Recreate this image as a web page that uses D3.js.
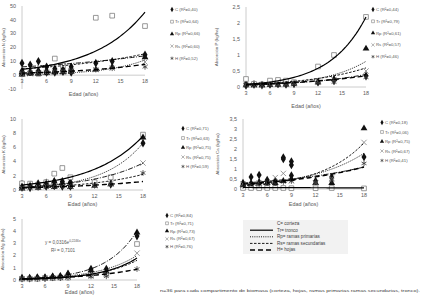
<!DOCTYPE html>
<html>
<head>
<meta charset="utf-8">
<script src="https://cdn.jsdelivr.net/npm/d3@7"></script>
<style>
  body { margin: 0; background: #fff; }
  svg { display: block; font-family: "Liberation Sans", Arial, sans-serif; }
</style>
</head>
<body>
<svg id="chart" width="423" height="300"></svg>
<script>
// ages sampled (años) and x ticks shared by every panel
const ages = [3, 4, 5, 6, 7, 8, 9, 12, 14, 18];
const xTicks = [3, 6, 9, 12, 15, 18];
const seriesKeys = ["C", "Tr", "Rp", "Rs", "H"];

// --- panel 1: N ---
const nTicks = [-10, 0, 10, 20, 30, 40, 50];
const nC  = [[8.7, 3], [7.5, 2.5], [10, 3], [6, 2], [4.6, 2], [5, 2.5], [6, 2], [8.7], [10], [14.7]];
const nTr = [[1], [1.5], [1], [2], [12], [7], [3], [41.5], [43], [35.5]];
const nRp = [[0.5, 2], [1, 2], [1, 3], [1.5, 3], [2, 3], [2, 4], [2.5, 4], [4], [6], [13]];
const nRs = [[1], [1], [1.5], [2], [2], [2.5], [3], [4], [5], [9.5]];
const nH  = [[1.5], [1.5], [2], [2], [2.5], [2.5], [3], [4], [5], [6]];
const nA  = [5.06, 2.56, 0.27, 3.6, 1.07];
const nB  = [0.0565, 0.16, 0.206, 0.081, 0.111];
const nR2 = ["0,40", "0,64", "0,66", "0,60", "0,52"];

// --- panel 2: P ---
const pTicks = [0, 0.5, 1, 1.5, 2, 2.5];
const pC  = [[0.1, 0.05], [0.08], [0.06], [0.08], [0.1], [0.08], [0.1], [0.15], [0.2], [0.35]];
const pTr = [[0.25], [0.1], [0.08], [0.2], [0.22], [0.2], [0.15], [0.64], [1.0], [2.19]];
const pRp = [[0.05], [0.05], [0.05], [0.06], [0.07], [0.08], [0.1], [0.15], [0.25], [1.2]];
const pRs = [[0.08], [0.06], [0.06], [0.08], [0.08], [0.1], [0.12], [0.18], [0.23], [0.5]];
const pH  = [[0.06], [0.05], [0.05], [0.06], [0.06], [0.07], [0.08], [0.12], [0.15], [0.3]];
const pA  = [0.041, 0.0417, 0.0287, 0.0535, 0.0596];
const pB  = [0.126, 0.22, 0.185, 0.134, 0.098];
const pR2 = ["0,44", "0,79", "0,61", "0,57", "0,46"];

// --- panel 3: K ---
const kTicks = [0, 2, 4, 6, 8, 10];
const kC  = [[0.8, 0.4], [0.7, 0.3], [0.9], [1.0, 0.5], [1.2, 0.6], [1.2, 0.5], [1.1, 0.5], [1.0], [0.8], [6.6]];
const kTr = [[0.93], [0.9], [0.75], [1.1], [2.3], [3.1], [1.8], [1.1], [1.8], [7.8]];
const kRp = [[0.5, 0.2], [0.6], [0.8, 0.3], [0.9], [1.2, 0.4], [1.0], [0.9, 0.4], [0.6], [0.8], [7.4]];
const kRs = [[0.3], [0.3], [0.4], [0.5], [0.5], [0.6], [0.5], [0.6], [0.9], [3.8]];
const kH  = [[0.2], [0.3], [0.3], [0.4], [0.4], [0.5], [0.5], [0.6], [0.8], [2.4]];
const kA  = [0.255, 0.434, 0.162, 0.201, 0.227];
const kB  = [0.15, 0.159, 0.206, 0.133, 0.092];
const kR2 = ["0,71", "0,63", "0,75", "0,75", "0,59"];

// --- panel 4: Ca ---
const caTicks = [0, 0.5, 1, 1.5, 2, 2.5, 3, 3.5];
const caC  = [[0.3, 0.15], [0.6, 0.2], [0.7, 0.3], [0.45, 0.2], [0.4, 0.2], [1.57, 1.5], [1.37, 1.2, 0.67], [0.4], [0.6], [1.6]];
const caTr = [[0.05], [0.05], [0.04], [0.05], [0.05], [0.05], [0.04], [0.04], [0.05], [0.03]];
const caRp = [[0.2], [0.3], [0.35], [0.3], [0.3], [0.4], [0.5], [0.3], [0.3], [3.03]];
const caRs = [[0.25], [0.2], [0.3], [0.3], [0.57], [0.78], [0.4], [0.3], [0.53], [2.33]];
const caH  = [[0.15], [0.2], [0.25], [0.3], [0.3], [0.35], [0.4], [0.35], [0.45], [1.28]];
const caA  = [0.231, 0.08, 0.129, 0.087, 0.186];
const caB  = [0.0866, -0.02, 0.146, 0.182, 0.0988];
const caR2 = ["0,18", "0,06", "0,75", "0,67", "0,41"];

// --- panel 5: Mg ---
const mgTicks = [0, 1, 2, 3, 4, 5];
const mgC  = [[0.15], [0.15], [0.2], [0.2], [0.25], [0.3], [0.5], [0.9], [0.9], [3.6]];
const mgTr = [[0.1], [0.1], [0.1], [0.15], [0.15], [0.2], [0.2], [0.4], [0.5], [2.95]];
const mgRp = [[0.15], [0.15], [0.2], [0.2], [0.3], [0.3], [0.5], [0.8], [0.7], [3.9]];
const mgRs = [[0.1], [0.1], [0.1], [0.15], [0.15], [0.2], [0.25], [0.3], [0.5], [2.2]];
const mgH  = [[0.1], [0.1], [0.1], [0.1], [0.15], [0.15], [0.2], [0.3], [0.3], [0.9]];
const mgA  = [0.048, 0.0316, 0.055, 0.044, 0.064];
const mgB  = [0.246, 0.2246, 0.2, 0.2, 0.146];
const mgR2 = ["0,84", "0,71", "0,73", "0,67", "0,76"];

// line-style legend
const lineLegend = ["C= corteza", "Tr= tronco", "Rp= ramas primarias", "Rs= ramas secundarias", "H= hojas"];
const footnote = "n=36 para cada compartimento de biomasa (corteza, hojas, ramas primarias ramas secundarias, tronco).";

const GRAY = "#595959", AXIS = "#bfbfbf";
const fmt = (v) => String(v).replace(".", ",");

// marker + trendline looks per series
const markerStyle = {
  C:  { sym: d3.symbolDiamond, size: 22, fill: "#111", stroke: "none" },
  Tr: { sym: d3.symbolSquare, size: 22, fill: "#fff", stroke: "#7f7f7f" },
  Rp: { sym: d3.symbolTriangle, size: 20, fill: "#111", stroke: "none" },
  Rs: { sym: d3.symbolTimes || d3.symbolX, size: 20, fill: "none", stroke: "#7f7f7f" },
  H:  { sym: d3.symbolAsterisk, size: 22, fill: "none", stroke: "#333" },
};
const lineStyle = {
  C:  { dash: "5,1.5,1,1.5", w: 0.9 },
  Tr: { dash: null, w: 1.2 },
  Rp: { dash: "1,1.2", w: 0.9 },
  Rs: { dash: "2.5,1.5", w: 0.9 },
  H:  { dash: "5,3", w: 1.4 },
};

const panels = [
  { yTitle: "Absorción N (kg/ha)", ticks: nTicks, yDom: [-10, 50], data: [nC, nTr, nRp, nRs, nH], a: nA, b: nB, r2: nR2,
    xr: [22, 145], yr: [89, 6], yTitleX: 5, xTitleY: 96, leg: [172, 11, 12.2] },
  { yTitle: "Absorción P (kg/ha)", ticks: pTicks, yDom: [0, 2.5], data: [pC, pTr, pRp, pRs, pH], a: pA, b: pB, r2: pR2,
    xr: [246, 366], yr: [87, 7], yTitleX: 218, xTitleY: 108, leg: [373, 11, 11.8] },
  { yTitle: "Absorción K (kg/ha)", ticks: kTicks, yDom: [0, 10], data: [kC, kTr, kRp, kRs, kH], a: kA, b: kB, r2: kR2,
    xr: [22, 143], yr: [190, 119], yTitleX: 5, xTitleY: 206, leg: [183, 130, 9.5] },
  { yTitle: "Absorción Ca (kg/ha)", ticks: caTicks, yDom: [0, 3.5], data: [caC, caTr, caRp, caRs, caH], a: caA, b: caB, r2: caR2,
    xr: [243, 364], yr: [189, 119], yTitleX: 219, xTitleY: 206, leg: [382, 124, 9.5] },
  { yTitle: "Absorción Mg (kg/ha)", ticks: mgTicks, yDom: [0, 5], data: [mgC, mgTr, mgRp, mgRs, mgH], a: mgA, b: mgB, r2: mgR2,
    xr: [22, 137], yr: [280, 219], yTitleX: 4, xTitleY: 294, leg: [167, 217, 7.8] },
];

const svg = d3.select("#chart");

function drawPanel(p) {
  const x = d3.scaleLinear().domain([3, 18]).range(p.xr);
  const y = d3.scaleLinear().domain(p.yDom).range(p.yr);
  const g = svg.append("g");

  // axes: light gray lines, Excel style (no tick marks)
  g.append("line").attr("x1", p.xr[0]).attr("x2", p.xr[1]).attr("y1", y(0)).attr("y2", y(0))
    .attr("stroke", AXIS).attr("stroke-width", 0.8);
  g.append("line").attr("x1", p.xr[0]).attr("x2", p.xr[0]).attr("y1", p.yr[0]).attr("y2", p.yr[1])
    .attr("stroke", AXIS).attr("stroke-width", 0.8);

  g.selectAll(".yt").data(p.ticks).join("text")
    .attr("x", p.xr[0] - 6).attr("y", (d) => y(d) + 1.8)
    .attr("text-anchor", "end").attr("font-size", 5.4).attr("fill", GRAY)
    .text((d) => fmt(d));
  g.selectAll(".xt").data(xTicks).join("text")
    .attr("x", (d) => x(d)).attr("y", y(0) + 8)
    .attr("text-anchor", "middle").attr("font-size", 5.4).attr("fill", GRAY)
    .text((d) => d);

  g.append("text").attr("x", (p.xr[0] + p.xr[1]) / 2).attr("y", p.xTitleY)
    .attr("text-anchor", "middle").attr("font-size", 5.4).attr("fill", GRAY).text("Edad (años)");
  g.append("text").attr("transform", `translate(${p.yTitleX},${(p.yr[0] + p.yr[1]) / 2}) rotate(-90)`)
    .attr("text-anchor", "middle").attr("font-size", 4.4).attr("fill", GRAY).text(p.yTitle);

  // scatter points
  seriesKeys.forEach((k, i) => {
    const ms = markerStyle[k];
    const pts = [];
    p.data[i].forEach((vals, j) => vals.forEach((v) => pts.push([ages[j], v])));
    g.append("g").selectAll("path").data(pts).join("path")
      .attr("transform", (d) => `translate(${x(d[0])},${y(d[1])})`)
      .attr("d", d3.symbol().type(ms.sym).size(ms.size))
      .attr("fill", ms.fill).attr("stroke", ms.stroke).attr("stroke-width", 0.8);
  });

  // exponential trend lines
  const xs = d3.range(3, 18.001, 0.25);
  const line = d3.line().x((d) => x(d[0])).y((d) => y(d[1]));
  seriesKeys.forEach((k, i) => {
    const ls = lineStyle[k];
    const curve = xs.map((t) => [t, p.a[i] * Math.exp(p.b[i] * t)]).filter((d) => d[1] <= p.yDom[1]);
    g.append("path").datum(curve).attr("d", line)
      .attr("fill", "none").attr("stroke", "#000").attr("stroke-width", ls.w)
      .attr("stroke-dasharray", ls.dash);
  });

  // marker legend
  const [lx, ly, dy] = p.leg;
  seriesKeys.forEach((k, i) => {
    const ms = markerStyle[k];
    g.append("path").attr("transform", `translate(${lx},${ly + i * dy - 1.5})`)
      .attr("d", d3.symbol().type(ms.sym).size(8))
      .attr("fill", ms.fill).attr("stroke", ms.stroke).attr("stroke-width", 0.6);
    g.append("text").attr("x", lx + 3).attr("y", ly + i * dy)
      .attr("font-size", 4.3).attr("fill", GRAY).text(`${k} (R²=${p.r2[i]})`);
  });
  return { x, y };
}

panels.forEach(drawPanel);

// equation on the Mg panel
svg.append("text").attr("x", 45).attr("y", 244).attr("font-size", 4.6).attr("fill", GRAY)
  .text("y = 0,0316e").append("tspan").attr("dy", -1.6).attr("font-size", 3.2).text("0,2246x");
svg.append("text").attr("x", 51).attr("y", 252).attr("font-size", 4.6).attr("fill", GRAY).text("R² = 0,7101");

// line legend box
const lb = svg.append("g");
lb.append("rect").attr("x", 243).attr("y", 220).attr("width", 105).attr("height", 34).attr("fill", "#f2f2f2");
lineLegend.forEach((t, i) => {
  const yy = 225 + i * 6.6;
  const ls = lineStyle[seriesKeys[i]];
  if (i > 0) {
    lb.append("line").attr("x1", 250).attr("x2", 273).attr("y1", yy - 1.4).attr("y2", yy - 1.4)
      .attr("stroke", "#000").attr("stroke-width", ls.w).attr("stroke-dasharray", ls.dash);
  }
  lb.append("text").attr("x", 277).attr("y", yy).attr("font-size", 4.6).attr("fill", "#404040").text(t);
});

svg.append("text").attr("x", 160).attr("y", 292).attr("font-size", 4.4).attr("fill", "#404040")
  .attr("textLength", 260).attr("lengthAdjust", "spacingAndGlyphs").text(footnote);
</script>
</body>
</html>
